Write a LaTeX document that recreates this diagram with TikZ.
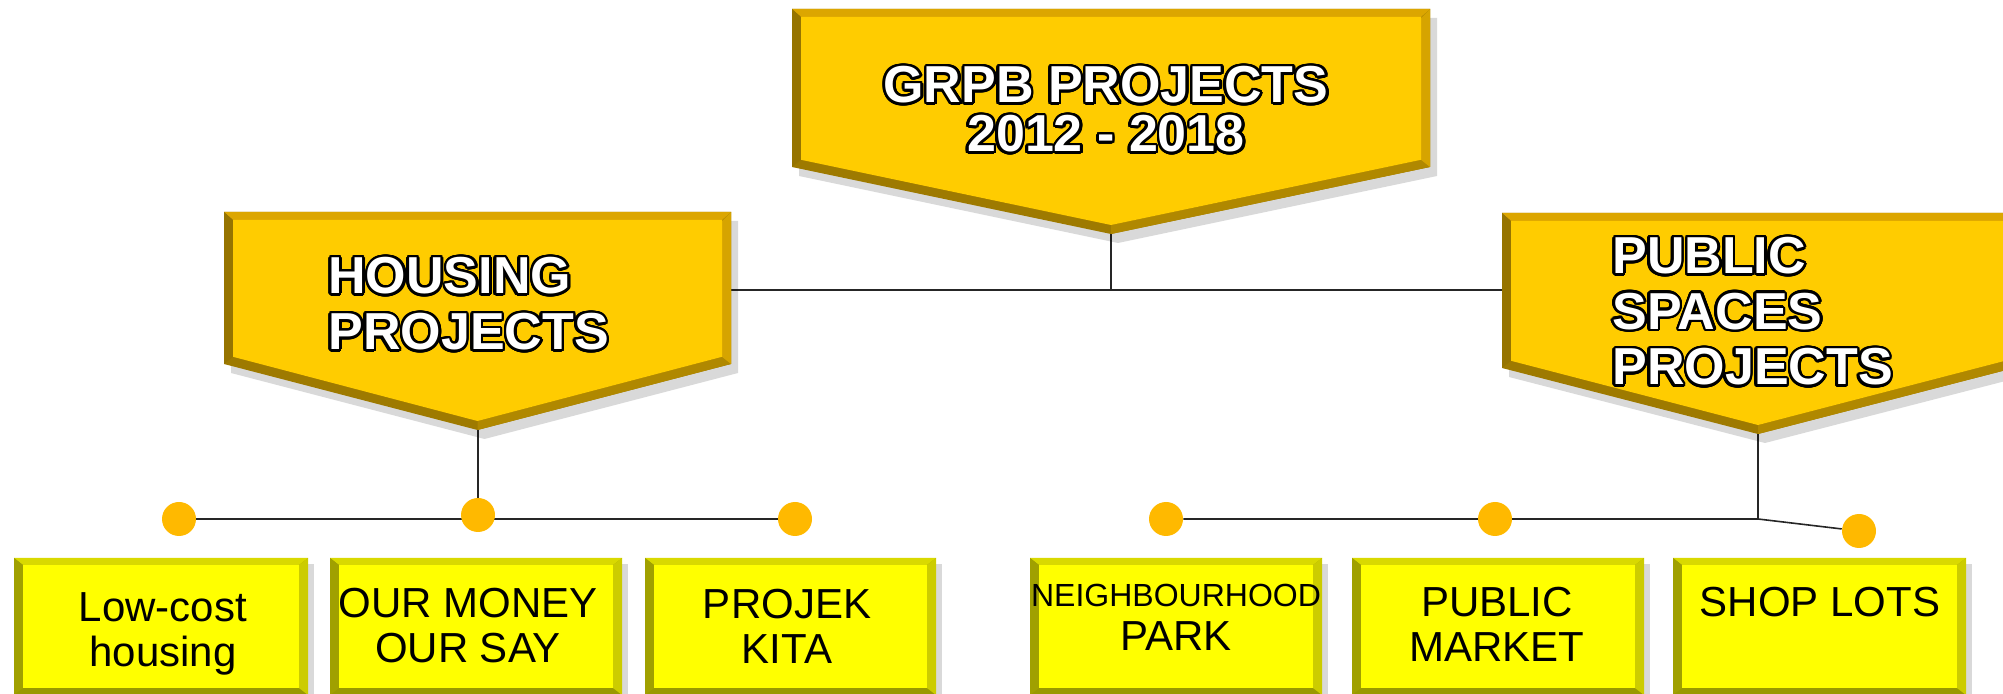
\documentclass[tikz,border=0pt]{standalone}
\usepackage{fontspec}
\setmainfont{Liberation Sans}
\usepackage{contour}
\usetikzlibrary{positioning, backgrounds}
\contourlength{1.3pt}
\contournumber{24}
\definecolor{arrface}{HTML}{FFCC00}
\definecolor{arrtop}{HTML}{DCA600}
\definecolor{arrleft}{HTML}{967400}
\definecolor{arrright}{HTML}{D6A400}
\definecolor{arrbotl}{HTML}{9E7A00}
\definecolor{arrbotr}{HTML}{B08800}
\definecolor{boxface}{HTML}{FFFF00}
\definecolor{boxtop}{HTML}{D9D900}
\definecolor{boxleft}{HTML}{A0A000}
\definecolor{boxright}{HTML}{CCCC00}
\definecolor{boxbot}{HTML}{999900}
\definecolor{dotc}{HTML}{FFB900}
\tikzset{
  link/.style={line width=0.8pt, black!85},
  dotnode/.style={circle, fill=dotc, inner sep=0pt, minimum size=17pt},
  headtxt/.style={text=white, inner sep=0pt, font=\fontsize{26}{28}\selectfont\bfseries},
  boxtxt/.style={text=black, inner sep=0pt, align=center, anchor=north, font=\fontsize{21}{22.5}\selectfont},
}
\newcommand{\halo}[1]{\contour{black}{#1}}
\newcommand{\bv}{9}
\newcommand{\bb}{9}
\newcommand{\bevelarrow}[5]{%
  \pgfmathsetmacro{\am}{(#1+#2)/2}%
  \fill[black, opacity=0.15] (#1+7,#3+9) -- (#2+7,#3+9) -- (#2+7,#4+9) -- (\am+7,#5+9) -- (#1+7,#4+9) -- cycle;
  \fill[arrbotl] (#1,#3) -- (#2,#3) -- (#2,#4) -- (\am,#5) -- (#1,#4) -- cycle;
  \fill[arrbotr] (#2,#3) -- (#2,#4) -- (\am,#5) -- (\am,#5-\bv) -- (#2-\bv,#4-0.8*\bv) -- (#2-\bv,#3+\bv) -- cycle;
  \fill[arrright] (#2,#3) -- (#2,#4) -- (#2-\bv,#4-0.8*\bv) -- (#2-\bv,#3+\bv) -- cycle;
  \fill[arrtop] (#1,#3) -- (#2,#3) -- (#2-\bv,#3+8) -- (#1+\bv,#3+8) -- cycle;
  \fill[arrleft] (#1,#3) -- (#1+\bv,#3+8) -- (#1+\bv,#4-0.8*\bv) -- (#1,#4) -- cycle;
  \fill[arrface] (#1+\bv,#3+8) -- (#2-\bv,#3+8) -- (#2-\bv,#4-0.8*\bv) -- (\am,#5-\bv) -- (#1+\bv,#4-0.8*\bv) -- cycle;
}
\newcommand{\bevelbox}[4]{%
  \fill[black, opacity=0.15] (#1+6,#3+6) rectangle (#2+6,#4+6);
  \fill[boxbot] (#1,#3) rectangle (#2,#4);
  \fill[boxtop] (#1,#3) -- (#2,#3) -- (#2-\bb,#3+7) -- (#1+\bb,#3+7) -- cycle;
  \fill[boxleft] (#1,#3) -- (#1+\bb,#3+7) -- (#1+\bb,#4-7) -- (#1,#4) -- cycle;
  \fill[boxright] (#2,#3) -- (#2,#4) -- (#2-\bb,#4-7) -- (#2-\bb,#3+7) -- cycle;
  \fill[boxface] (#1+\bb,#3+7) rectangle (#2-\bb,#4-7);
}
\begin{document}
\begin{tikzpicture}[x=0.5pt, y=-0.5pt]
\useasboundingbox (0,0) rectangle (2003,694);
\bevelarrow{792}{1430}{9}{167}{234}
\bevelarrow{224}{731}{212}{364}{430}
\bevelarrow{1502}{2014}{213}{368}{434}
\bevelbox{14}{308}{558}{695}
\bevelbox{330}{622}{558}{695}
\bevelbox{645}{936}{558}{695}
\bevelbox{1030}{1322}{558}{695}
\bevelbox{1352}{1644}{558}{695}
\bevelbox{1673}{1966}{558}{695}
\coordinate (grpbtip) at (1111,234);
\coordinate (topbar) at (1111,290);
\coordinate (housingside) at (731,290);
\coordinate (publicside) at (1502,290);
\coordinate (housingtip) at (478,430);
\coordinate (publictip) at (1758,434);
\coordinate (publicjoin) at (1758,519);
\node[dotnode] (dlow) at (179,519) {};
\node[dotnode] (dmoney) at (478,515) {};
\node[dotnode] (dkita) at (795,519) {};
\node[dotnode] (dpark) at (1166,519) {};
\node[dotnode] (dmarket) at (1495,519) {};
\node[dotnode] (dshop) at (1859,531) {};
\begin{scope}[on background layer]
\draw[link] (grpbtip) -- (topbar);
\draw[link] (housingside) -- (publicside);
\draw[link] (housingtip) -- (dmoney);
\draw[link] (dlow) -- (dkita);
\draw[link] (publictip) -- (publicjoin);
\draw[link] (dpark) -- (publicjoin) -- (dshop);
\end{scope}
\node[headtxt, align=center, anchor=north, font=\fontsize{26}{24.5}\selectfont\bfseries] (grpb) at (1106,66) {\halo{GRPB PROJECTS}\\\halo{2012 - 2018}};
\node[headtxt, align=left, anchor=north west] (housing) at (328,257) {\halo{HOUSING}\\\halo{PROJECTS}};
\node[headtxt, align=left, anchor=north west, font=\fontsize{26}{27.8}\selectfont\bfseries] (public) at (1612,237) {\halo{PUBLIC}\\\halo{SPACES}\\\halo{PROJECTS}};
\node[boxtxt] (lowcost) at (163,592) {Low-cost\\housing};
\node[boxtxt] (ourmoney) at (468,588) {OUR MONEY\\OUR SAY};
\node[boxtxt] (projek) at (787,589) {PROJEK\\KITA};
\node[boxtxt, font=\fontsize{21}{21.8}\selectfont] (park) at (1176,584) {{\fontsize{16}{16}\selectfont NEIGHBOURHOOD}\\PARK};
\node[boxtxt] (market) at (1497,587) {PUBLIC\\MARKET};
\node[boxtxt] (shoplots) at (1820,587) {SHOP LOTS};
\end{tikzpicture}
\end{document}
